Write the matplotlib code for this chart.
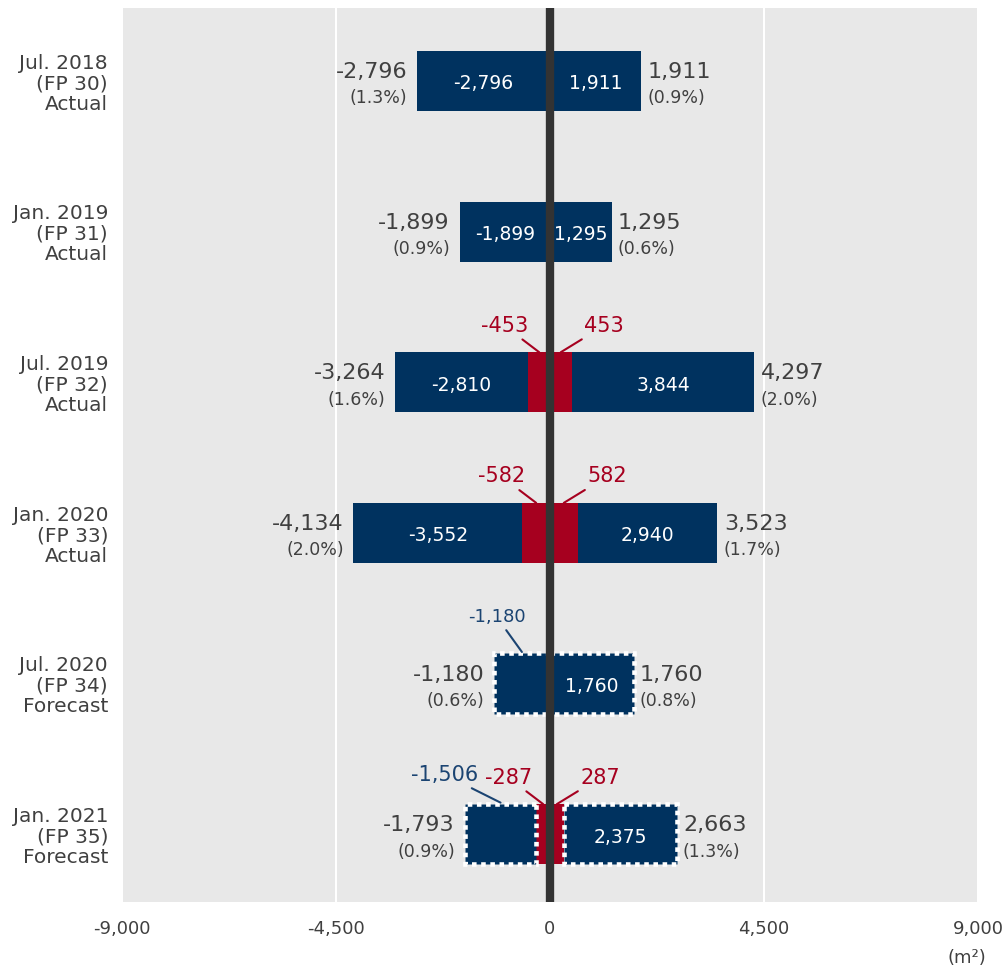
import numpy as np
import matplotlib.pyplot as plt

# datos
periodos = ['Jul. 2018\n(FP 30)\nActual', 'Jan. 2019\n(FP 31)\nActual',
            'Jul. 2019\n(FP 32)\nActual', 'Jan. 2020\n(FP 33)\nActual',
            'Jul. 2020\n(FP 34)\nForecast', 'Jan. 2021\n(FP 35)\nForecast']
neg_rojo = [0, 0, -453, -582, 0, -287]
neg_azul = [-2796, -1899, -2810, -3552, -1180, -1506]
pos_rojo = [0, 0, 453, 582, 0, 287]
pos_azul = [1911, 1295, 3844, 2940, 1760, 2375]
neg_total = [-2796, -1899, -3264, -4134, -1180, -1793]
pos_total = [1911, 1295, 4297, 3523, 1760, 2663]
neg_pct = ['(1.3%)', '(0.9%)', '(1.6%)', '(2.0%)', '(0.6%)', '(0.9%)']
pos_pct = ['(0.9%)', '(0.6%)', '(2.0%)', '(1.7%)', '(0.8%)', '(1.3%)']
pronostico = [False, False, False, False, True, True]
xticks = [-9000, -4500, 0, 4500, 9000]

AZUL = '#00325f'
ROJO = '#a6001f'
GRIS = '#404040'

fig = plt.figure(figsize=(10.03, 9.69), dpi=100)
ax = fig.add_axes([0.1216, 0.0691, 0.8535, 0.9226])
ax.set_facecolor('#e8e8e8')

y = np.arange(len(periodos))
h = 0.4

for i in y:
    borde = dict(edgecolor='white', linestyle=(0, (1, 1)), linewidth=3.3) if pronostico[i] else dict(linewidth=0)
    ax.barh(i, neg_rojo[i], height=h, color=ROJO, linewidth=0, zorder=2)
    ax.barh(i, pos_rojo[i], height=h, color=ROJO, linewidth=0, zorder=2)
    ax.barh(i, neg_azul[i], left=neg_rojo[i], height=h, color=AZUL, zorder=3, **borde)
    ax.barh(i, pos_azul[i], left=pos_rojo[i], height=h, color=AZUL, zorder=3, **borde)

    # etiquetas dentro
    ax.annotate(f'{pos_azul[i]:,}', (pos_rojo[i] + pos_azul[i] / 2, i), xytext=(0, -2),
                textcoords='offset points', color='white', ha='center', va='center',
                fontsize=13.5, zorder=6)
    if not pronostico[i]:
        ax.annotate(f'{neg_azul[i]:,}', (neg_rojo[i] + neg_azul[i] / 2, i), xytext=(0, -2),
                    textcoords='offset points', color='white', ha='center', va='center',
                    fontsize=13.5, zorder=6)

    # totales afuera
    ax.annotate(f'{neg_total[i]:,}', (neg_total[i], i), xytext=(-7, 6.5), textcoords='offset points',
                ha='right', va='center', fontsize=16, color=GRIS)
    ax.annotate(neg_pct[i], (neg_total[i], i), xytext=(-7, -12.5), textcoords='offset points',
                ha='right', va='center', fontsize=12.5, color=GRIS)
    ax.annotate(f'{pos_total[i]:,}', (pos_total[i], i), xytext=(4.5, 6.5), textcoords='offset points',
                ha='left', va='center', fontsize=16, color=GRIS)
    ax.annotate(pos_pct[i], (pos_total[i], i), xytext=(4.5, -12.5), textcoords='offset points',
                ha='left', va='center', fontsize=12.5, color=GRIS)

    # etiquetas con linea
    linea = dict(arrowstyle='-', lw=1.5, shrinkA=1, shrinkB=0)
    if neg_rojo[i]:
        ax.annotate(f'{neg_rojo[i]:,}', (neg_rojo[i] / 2, i - h / 2), xytext=(-25, 19),
                    textcoords='offset points', ha='center', va='center', fontsize=15, color=ROJO,
                    arrowprops=dict(color=ROJO, **linea))
        ax.annotate(f'{pos_rojo[i]:,}', (pos_rojo[i] / 2, i - h / 2), xytext=(31, 19),
                    textcoords='offset points', ha='center', va='center', fontsize=15, color=ROJO,
                    arrowprops=dict(color=ROJO, **linea))
    if pronostico[i]:
        off, fs = ((-18, 25), 13) if neg_rojo[i] == 0 else ((-40, 20), 15)
        ax.annotate(f'{neg_azul[i]:,}', (neg_rojo[i] + neg_azul[i] / 2, i - h / 2 - 0.01), xytext=off,
                    textcoords='offset points', ha='center', va='center', fontsize=fs, color='#1b4472',
                    arrowprops=dict(color='#1b4472', **linea))

ax.axvline(0, color='#333333', lw=6, zorder=5)

ax.set_xlim(-9000, 9000)
ax.set_ylim(5.45, -0.485)
ax.set_xticks(xticks)
ax.set_xticklabels([f'{v:,}' for v in xticks], fontsize=13, color=GRIS)
ax.set_yticks(y)
ax.set_yticklabels(periodos, fontsize=14.5, color=GRIS, linespacing=1.1)
ax.tick_params(length=0)
ax.tick_params(axis='x', pad=13)
ax.tick_params(axis='y', pad=10)
ax.grid(axis='x', color='white', lw=1.5)
ax.set_axisbelow(True)
for s in ax.spines.values():
    s.set_visible(False)

fig.text(0.983, 0.0114, '(m²)', ha='right', va='center', fontsize=13, color=GRIS)

plt.savefig('out.png', dpi=100)
